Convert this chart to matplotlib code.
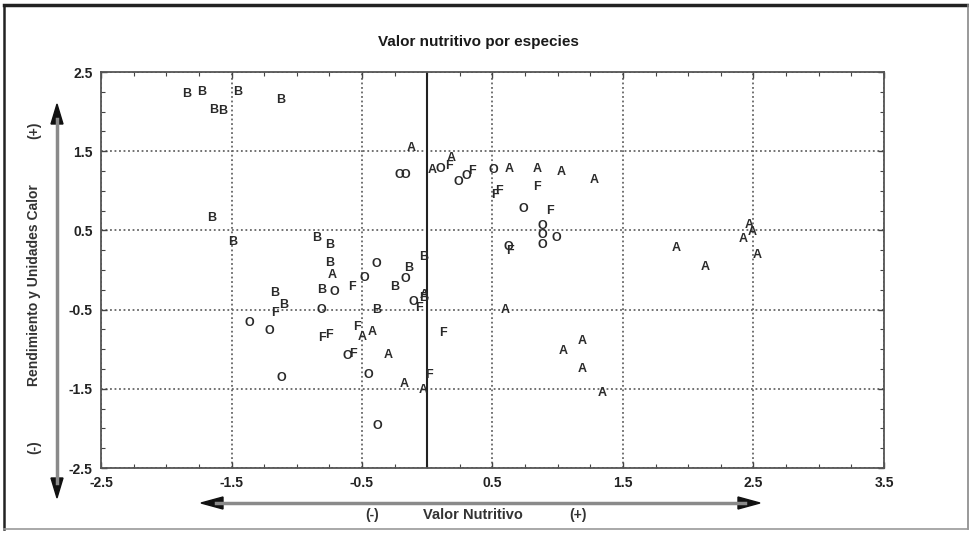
import matplotlib
matplotlib.use("Agg")
import matplotlib.pyplot as plt
from matplotlib.lines import Line2D
from matplotlib.patches import Polygon
from matplotlib.ticker import FixedLocator, MultipleLocator

# Species groups (nutritive value vs. yield / heat units)
a_x = [-0.12, 0.63, 0.84, 1.03, 1.28, 1.91, 2.13, 2.47, 2.49, 2.42, 2.53,
       0.60, 1.04, 1.19, 1.19, 1.34, -0.50, -0.42, -0.30, -0.18, -0.03,
       -0.02, -0.73, 0.04, 0.18]
a_y = [1.54, 1.27, 1.27, 1.24, 1.14, 0.28, 0.04, 0.57, 0.48, 0.39, 0.19,
       -0.50, -1.02, -0.90, -1.25, -1.55, -0.85, -0.78, -1.07, -1.44, -1.52,
       -0.32, -0.06, 1.26, 1.41]

b_x = [-1.84, -1.73, -1.64, -1.57, -1.45, -1.12, -1.65, -1.49, -0.85, -0.745,
       -0.75, -0.81, -1.17, -1.10, -0.03, -0.14, -0.25, -0.39, -0.03]
b_y = [2.22, 2.25, 2.02, 2.01, 2.25, 2.15, 0.66, 0.35, 0.40, 0.32,
       0.09, -0.25, -0.29, -0.44, 0.16, 0.03, -0.21, -0.50, -0.35]

f_x = [0.52, 0.55, 0.84, 0.94, 0.17, 0.34, -0.58, -1.17, -0.06, -0.81,
       -0.75, -0.54, -0.57, 0.01, 0.12, 0.63]
f_y = [0.95, 1.00, 1.05, 0.75, 1.31, 1.25, -0.21, -0.54, -0.48, -0.86,
       -0.82, -0.72, -1.06, -1.33, -0.80, 0.24]

o_x = [-0.21, -0.17, 0.10, 0.24, 0.30, 0.51, 0.74, 0.88, 0.88, 0.99, 0.88,
       0.62, -0.39, -0.48, -0.71, -0.17, -0.11, -0.81, -1.36, -1.21, -0.61,
       -0.45, -1.12, -0.38]
o_y = [1.20, 1.20, 1.28, 1.11, 1.19, 1.26, 0.77, 0.56, 0.44, 0.40, 0.32,
       0.29, 0.08, -0.10, -0.28, -0.11, -0.40, -0.50, -0.67, -0.77, -1.09,
       -1.33, -1.36, -1.97]

groups = [("A", a_x, a_y), ("B", b_x, b_y), ("F", f_x, f_y), ("O", o_x, o_y)]

x_ticks = [-2.5, -1.5, -0.5, 0.5, 1.5, 2.5, 3.5]
y_ticks = [-2.5, -1.5, -0.5, 0.5, 1.5, 2.5]

title = "Valor nutritivo por especies"
x_title = "Valor Nutritivo"
y_title = "Rendimiento y Unidades Calor"

plt.rcParams["font.family"] = ["Liberation Sans Narrow", "Liberation Sans", "DejaVu Sans"]

W, H = 970, 533
fig = plt.figure(figsize=(W / 100, H / 100), dpi=100)
fig.patch.set_facecolor("white")

ax = fig.add_axes([101 / W, 1 - 468 / H, (884 - 101) / W, (468 - 72) / H])
ax.set_xlim(-2.5, 3.5)
ax.set_ylim(-2.5, 2.5)

ax.xaxis.set_major_locator(FixedLocator(x_ticks))
ax.yaxis.set_major_locator(FixedLocator(y_ticks))
ax.xaxis.set_minor_locator(MultipleLocator(0.25))
ax.yaxis.set_minor_locator(MultipleLocator(0.25))
ax.set_xticklabels([f"{v:g}" for v in x_ticks])
ax.set_yticklabels([f"{v:g}" for v in y_ticks])
ax.tick_params(which="both", direction="in", top=True, right=True,
               color="#444444", labelsize=10, labelcolor="#222222")
ax.tick_params(which="major", length=4, width=1, pad=6)
ax.tick_params(which="minor", length=3, width=0.8)
for lab in ax.get_xticklabels() + ax.get_yticklabels():
    lab.set_fontweight("bold")

ax.grid(True, which="major", linestyle=(0, (1, 1.5)), color="#666666", linewidth=1.3)
for s in ax.spines.values():
    s.set_color("#555555")
    s.set_linewidth(1.3)

ax.axvline(0, color="#222222", linewidth=1.5)

for letter, xs, ys in groups:
    for x, y in zip(xs, ys):
        ax.text(x, y, letter, ha="center", va="center", fontsize=9,
                fontweight="bold", color="#2a2a2a",
                fontfamily=["Liberation Sans", "DejaVu Sans"])

fig.text(478 / W, 1 - 42 / H, title, ha="center", va="center",
         fontsize=11, fontweight="bold", color="#1a1a1a")

# y-axis caption with signs
fig.text(34 / W, 1 - 285 / H, y_title, rotation=90, ha="center", va="center",
         fontsize=10, fontweight="bold", color="#333333")
fig.text(34 / W, 1 - 130 / H, "(+)", rotation=90, ha="center", va="center",
         fontsize=10, fontweight="bold", color="#333333")
fig.text(34 / W, 1 - 447 / H, "(-)", rotation=90, ha="center", va="center",
         fontsize=10, fontweight="bold", color="#333333")

# x-axis caption with signs
fig.text(372 / W, 1 - 515 / H, "(-)", ha="center", va="center",
         fontsize=10, fontweight="bold", color="#333333")
fig.text(473 / W, 1 - 515 / H, x_title, ha="center", va="center",
         fontsize=10.5, fontweight="bold", color="#333333")
fig.text(578 / W, 1 - 515 / H, "(+)", ha="center", va="center",
         fontsize=10, fontweight="bold", color="#333333")


def fpx(x, y):
    return (x / W, 1 - y / H)


# direction arrows: grey shafts with black heads
vx, vtop, vbot = 57, 104, 498
fig.add_artist(Line2D([vx / W, vx / W], [1 - (vtop + 15) / H, 1 - (vbot - 15) / H],
                      transform=fig.transFigure, color="#8a8a8a", linewidth=2.5))
fig.add_artist(Polygon([fpx(vx, vtop), fpx(vx - 6, vtop + 20), fpx(vx + 6, vtop + 20)],
                       closed=True, transform=fig.transFigure, color="#111111"))
fig.add_artist(Polygon([fpx(vx, vbot), fpx(vx - 6, vbot - 20), fpx(vx + 6, vbot - 20)],
                       closed=True, transform=fig.transFigure, color="#111111"))

hy, hl, hr = 503, 201, 760
fig.add_artist(Line2D([(hl + 15) / W, (hr - 15) / W], [1 - hy / H, 1 - hy / H],
                      transform=fig.transFigure, color="#8a8a8a", linewidth=2.5))
fig.add_artist(Polygon([fpx(hl, hy), fpx(hl + 22, hy - 6), fpx(hl + 22, hy + 6)],
                       closed=True, transform=fig.transFigure, color="#111111"))
fig.add_artist(Polygon([fpx(hr, hy), fpx(hr - 22, hy - 6), fpx(hr - 22, hy + 6)],
                       closed=True, transform=fig.transFigure, color="#111111"))

# outer frame
fig.add_artist(Line2D([4 / W, 968 / W], [1 - 5 / H, 1 - 5 / H], transform=fig.transFigure,
                      color="#222222", linewidth=2.5))
fig.add_artist(Line2D([4 / W, 4 / W], [1 - 5 / H, 1 - 529 / H], transform=fig.transFigure,
                      color="#222222", linewidth=1.8))
fig.add_artist(Line2D([968 / W, 968 / W], [1 - 5 / H, 1 - 529 / H], transform=fig.transFigure,
                      color="#888888", linewidth=1.2))
fig.add_artist(Line2D([4 / W, 968 / W], [1 - 529 / H, 1 - 529 / H], transform=fig.transFigure,
                      color="#999999", linewidth=1.2))

fig.savefig("out.png", dpi=100, facecolor="white")
